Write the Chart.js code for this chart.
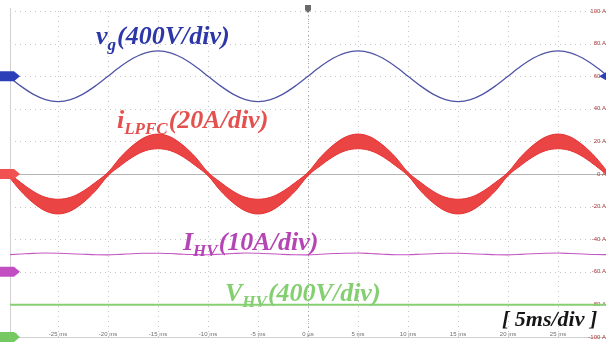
<!DOCTYPE html>
<html>
<head>
<meta charset="utf-8">
<script src="https://cdn.jsdelivr.net/npm/chart.js@4.4.1/dist/chart.umd.min.js"></script>
<style>
  html, body { margin: 0; padding: 0; background: #ffffff; }
  #wrap { width: 606px; height: 345px; position: relative; }
</style>
</head>
<body>
<div id="wrap"><canvas id="scope" width="606" height="345"></canvas></div>
<script>
// Sample instants (ms) of the captured record
const timeMs = [-30, -28.75, -27.5, -26.25, -25, -23.75, -22.5, -21.25, -20, -18.75, -17.5, -16.25,
  -15, -13.75, -12.5, -11.25, -10, -8.75, -7.5, -6.25, -5, -3.75, -2.5, -1.25,
  0, 1.25, 2.5, 3.75, 5, 6.25, 7.5, 8.75, 10, 11.25, 12.5, 13.75, 15, 16.25, 17.5, 18.75,
  20, 21.25, 22.5, 23.75, 25, 26.25, 27.5, 28.75, 30];

// Grid voltage v_g (V)
const vgVolts = [0, -119, -220, -287, -311, -287, -220, -119, 0, 119, 220, 287, 311, 287, 220, 119,
  0, -119, -220, -287, -311, -287, -220, -119, 0, 119, 220, 287, 311, 287, 220, 119,
  0, -119, -220, -287, -311, -287, -220, -119, 0, 119, 220, 287, 311, 287, 220, 119, 0];

// Inductor current i_LPFC ripple envelope (A): upper and lower edges of the switching band
const iLUpperAmps = [1.0, -5.1, -10.6, -14.3, -15.5, -14.3, -10.6, -5.1, 1.0, 10.3, 17.6, 22.7, 24.5, 22.7, 17.6, 10.3,
  1.0, -5.1, -10.6, -14.3, -15.5, -14.3, -10.6, -5.1, 1.0, 10.3, 17.6, 22.7, 24.5, 22.7, 17.6, 10.3,
  1.0, -5.1, -10.6, -14.3, -15.5, -14.3, -10.6, -5.1, 1.0, 10.3, 17.6, 22.7, 24.5, 22.7, 17.6, 10.3, 1.0];
const iLLowerAmps = [-1.0, -10.3, -17.6, -22.7, -24.5, -22.7, -17.6, -10.3, -1.0, 5.1, 10.6, 14.3, 15.5, 14.3, 10.6, 5.1,
  -1.0, -10.3, -17.6, -22.7, -24.5, -22.7, -17.6, -10.3, -1.0, 5.1, 10.6, 14.3, 15.5, 14.3, 10.6, 5.1,
  -1.0, -10.3, -17.6, -22.7, -24.5, -22.7, -17.6, -10.3, -1.0, 5.1, 10.6, 14.3, 15.5, 14.3, 10.6, 5.1, -1.0];

// HV-side current I_HV (A)
const iHVAmps = [5.25, 5.45, 5.65, 5.75, 5.7, 5.55, 5.4, 5.25, 5.2, 5.35, 5.55, 5.7, 5.7, 5.6, 5.4, 5.3,
  5.25, 5.4, 5.6, 5.75, 5.7, 5.55, 5.35, 5.25, 5.2, 5.4, 5.6, 5.7, 5.75, 5.6, 5.4, 5.25,
  5.25, 5.4, 5.55, 5.7, 5.7, 5.55, 5.4, 5.25, 5.2, 5.35, 5.55, 5.7, 5.75, 5.6, 5.45, 5.3, 5.25];

// HV-side voltage V_HV (V)
const vHVVolts = [395, 395, 395, 395, 395, 395, 395, 395, 395, 395, 395, 395, 395, 395, 395, 395,
  395, 395, 395, 395, 395, 395, 395, 395, 395, 395, 395, 395, 395, 395, 395, 395,
  395, 395, 395, 395, 395, 395, 395, 395, 395, 395, 395, 395, 395, 395, 395, 395, 395];

// Axis annotations
const timeTicks = [-30, -25, -20, -15, -10, -5, 0, 5, 10, 15, 20, 25];
const timeTickLabels = ['-30 ms', '-25 ms', '-20 ms', '-15 ms', '-10 ms', '-5 ms', '0 \u00b5s', '5 ms', '10 ms', '15 ms', '20 ms', '25 ms'];
const ampTicks = [100, 80, 60, 40, 20, 0, -20, -40, -60, -80, -100];
const ampTickLabels = ['100 A', '80 A', '60 A', '40 A', '20 A', '0 A', '-20 A', '-40 A', '-60 A', '-80 A', '-100 A'];

// Channel settings: units per division and baseline position (divisions from screen centre)
const DIV = 20; // screen units per vertical division (20 A/div reference axis)
const channels = {
  vg:  { perDiv: 400, offsetDiv: 3,  color: '#2c3fb8' },
  iL:  { perDiv: 20,  offsetDiv: 0,  color: '#f05252' },
  iHV: { perDiv: 10,  offsetDiv: -3, color: '#c24fc2' },
  vHV: { perDiv: 400, offsetDiv: -5, color: '#76c862' }
};

function toScreen(ch, values) {
  const c = channels[ch];
  return values.map((v, i) => ({ x: timeMs[i], y: c.offsetDiv * DIV + v / c.perDiv * DIV }));
}

// Graticule, channel markers, readouts and trace labels
const scopeDecor = {
  id: 'scopeDecor',
  beforeDatasetsDraw(chart) {
    const { ctx, chartArea: a, scales: { x, y } } = chart;
    ctx.save();
    ctx.lineWidth = 1;
    // dotted graticule
    ctx.strokeStyle = '#c6c6c6';
    ctx.setLineDash([1, 4]);
    timeTicks.forEach(t => {
      if (t === -30) return;
      const px = Math.round(x.getPixelForValue(t)) + 0.5;
      ctx.beginPath(); ctx.moveTo(px, a.top); ctx.lineTo(px, a.bottom); ctx.stroke();
    });
    ampTicks.forEach(v => {
      if (v === 0 || v === -100) return;
      const py = Math.round(y.getPixelForValue(v)) + 0.5;
      ctx.beginPath(); ctx.moveTo(a.left, py); ctx.lineTo(a.right, py); ctx.stroke();
    });
    // centre vertical, slightly darker
    ctx.strokeStyle = '#a8a8a8';
    ctx.setLineDash([1, 3]);
    const cx = Math.round(x.getPixelForValue(0)) + 0.5;
    ctx.beginPath(); ctx.moveTo(cx, a.top); ctx.lineTo(cx, a.bottom); ctx.stroke();
    ctx.setLineDash([]);
    // centre horizontal
    ctx.strokeStyle = '#b4b4b4';
    const cy = Math.round(y.getPixelForValue(0)) + 0.5;
    ctx.beginPath(); ctx.moveTo(a.left, cy); ctx.lineTo(a.right, cy); ctx.stroke();
    // left and bottom frame
    ctx.strokeStyle = '#d0d0d0';
    ctx.beginPath();
    ctx.moveTo(a.left + 0.5, a.top - 3); ctx.lineTo(a.left + 0.5, a.bottom + 0.5); ctx.lineTo(a.right, a.bottom + 0.5);
    ctx.stroke();
    // readouts
    ctx.font = '6px "Liberation Sans", Arial, sans-serif';
    ctx.fillStyle = '#a83a3a';
    ctx.textAlign = 'right';
    ctx.textBaseline = 'middle';
    ampTicks.forEach((v, i) => {
      ctx.fillText(ampTickLabels[i], 606, y.getPixelForValue(v));
    });
    ctx.fillStyle = '#6e6e6e';
    ctx.textAlign = 'center';
    ctx.textBaseline = 'alphabetic';
    timeTicks.forEach((t, i) => {
      ctx.fillText(timeTickLabels[i], x.getPixelForValue(t), a.bottom - 1);
    });
    ctx.restore();
  },
  afterDatasetsDraw(chart) {
    const { ctx, scales: { x, y } } = chart;
    ctx.save();
    // channel ground markers on the left edge
    Object.keys(channels).forEach(k => {
      const c = channels[k];
      const py = y.getPixelForValue(c.offsetDiv * DIV);
      ctx.fillStyle = c.color;
      ctx.beginPath();
      ctx.moveTo(0, py - 5); ctx.lineTo(14, py - 5); ctx.lineTo(20, py);
      ctx.lineTo(14, py + 5); ctx.lineTo(0, py + 5); ctx.closePath(); ctx.fill();
    });
    // v_g level marker on the right edge
    const vy = y.getPixelForValue(channels.vg.offsetDiv * DIV);
    ctx.fillStyle = channels.vg.color;
    ctx.beginPath(); ctx.moveTo(599, vy); ctx.lineTo(606, vy - 4); ctx.lineTo(606, vy + 4); ctx.closePath(); ctx.fill();
    // trigger position marker
    const tx = x.getPixelForValue(0);
    ctx.fillStyle = '#6a6a6a';
    ctx.beginPath();
    ctx.moveTo(tx - 3, 5); ctx.lineTo(tx + 3, 5); ctx.lineTo(tx + 3, 10); ctx.lineTo(tx, 13); ctx.lineTo(tx - 3, 10);
    ctx.closePath(); ctx.fill();

    // trace labels: main symbol, subscript, scale
    function label(px, py, main, sub, rest, color) {
      ctx.fillStyle = color;
      ctx.textAlign = 'left';
      ctx.textBaseline = 'alphabetic';
      ctx.font = 'italic bold 26px "Liberation Serif", "Times New Roman", serif';
      ctx.fillText(main, px, py);
      let cx = px + ctx.measureText(main).width;
      ctx.font = 'italic bold 17px "Liberation Serif", "Times New Roman", serif';
      ctx.fillText(sub, cx, py + 6);
      cx += ctx.measureText(sub).width + 1;
      ctx.font = 'italic bold 26px "Liberation Serif", "Times New Roman", serif';
      ctx.fillText(rest, cx, py);
    }
    label(96, 44, 'v', 'g', '(400V/div)', '#2d37a8');
    label(117, 128, 'i', 'LPFC', '(20A/div)', '#e4504e');
    label(183, 250, 'I', 'HV', '(10A/div)', '#b545b5');
    label(225, 301, 'V', 'HV', '(400V/div)', '#84cf70');

    ctx.fillStyle = '#151515';
    ctx.font = 'italic bold 22px "Liberation Serif", "Times New Roman", serif';
    ctx.fillText('[ 5ms/div ]', 502, 326);
    ctx.restore();
  }
};

new Chart(document.getElementById('scope'), {
  type: 'line',
  data: {
    datasets: [
      { label: 'v_g', data: toScreen('vg', vgVolts), borderColor: '#4f53a6', borderWidth: 1.3, fill: false },
      { label: 'i_LPFC upper', data: toScreen('iL', iLUpperAmps), borderColor: '#e63232', borderWidth: 1, fill: false },
      { label: 'i_LPFC lower', data: toScreen('iL', iLLowerAmps), borderColor: '#e63232', borderWidth: 1,
        fill: '-1', backgroundColor: 'rgba(232,52,52,0.92)' },
      { label: 'I_HV', data: toScreen('iHV', iHVAmps), borderColor: '#c458c2', borderWidth: 1.1, fill: false },
      { label: 'V_HV', data: toScreen('vHV', vHVVolts), borderColor: '#86cf72', borderWidth: 2, fill: false }
    ]
  },
  options: {
    responsive: false,
    animation: false,
    parsing: false,
    layout: { padding: { left: 10, right: 0, top: 11, bottom: 8 } },
    elements: { point: { radius: 0 }, line: { cubicInterpolationMode: 'monotone' } },
    scales: {
      x: { type: 'linear', min: -29.8, max: 29.8, display: false },
      y: { type: 'linear', min: -100, max: 100, display: false }
    },
    plugins: { legend: { display: false }, tooltip: { enabled: false } }
  },
  plugins: [scopeDecor]
});
</script>
</body>
</html>
